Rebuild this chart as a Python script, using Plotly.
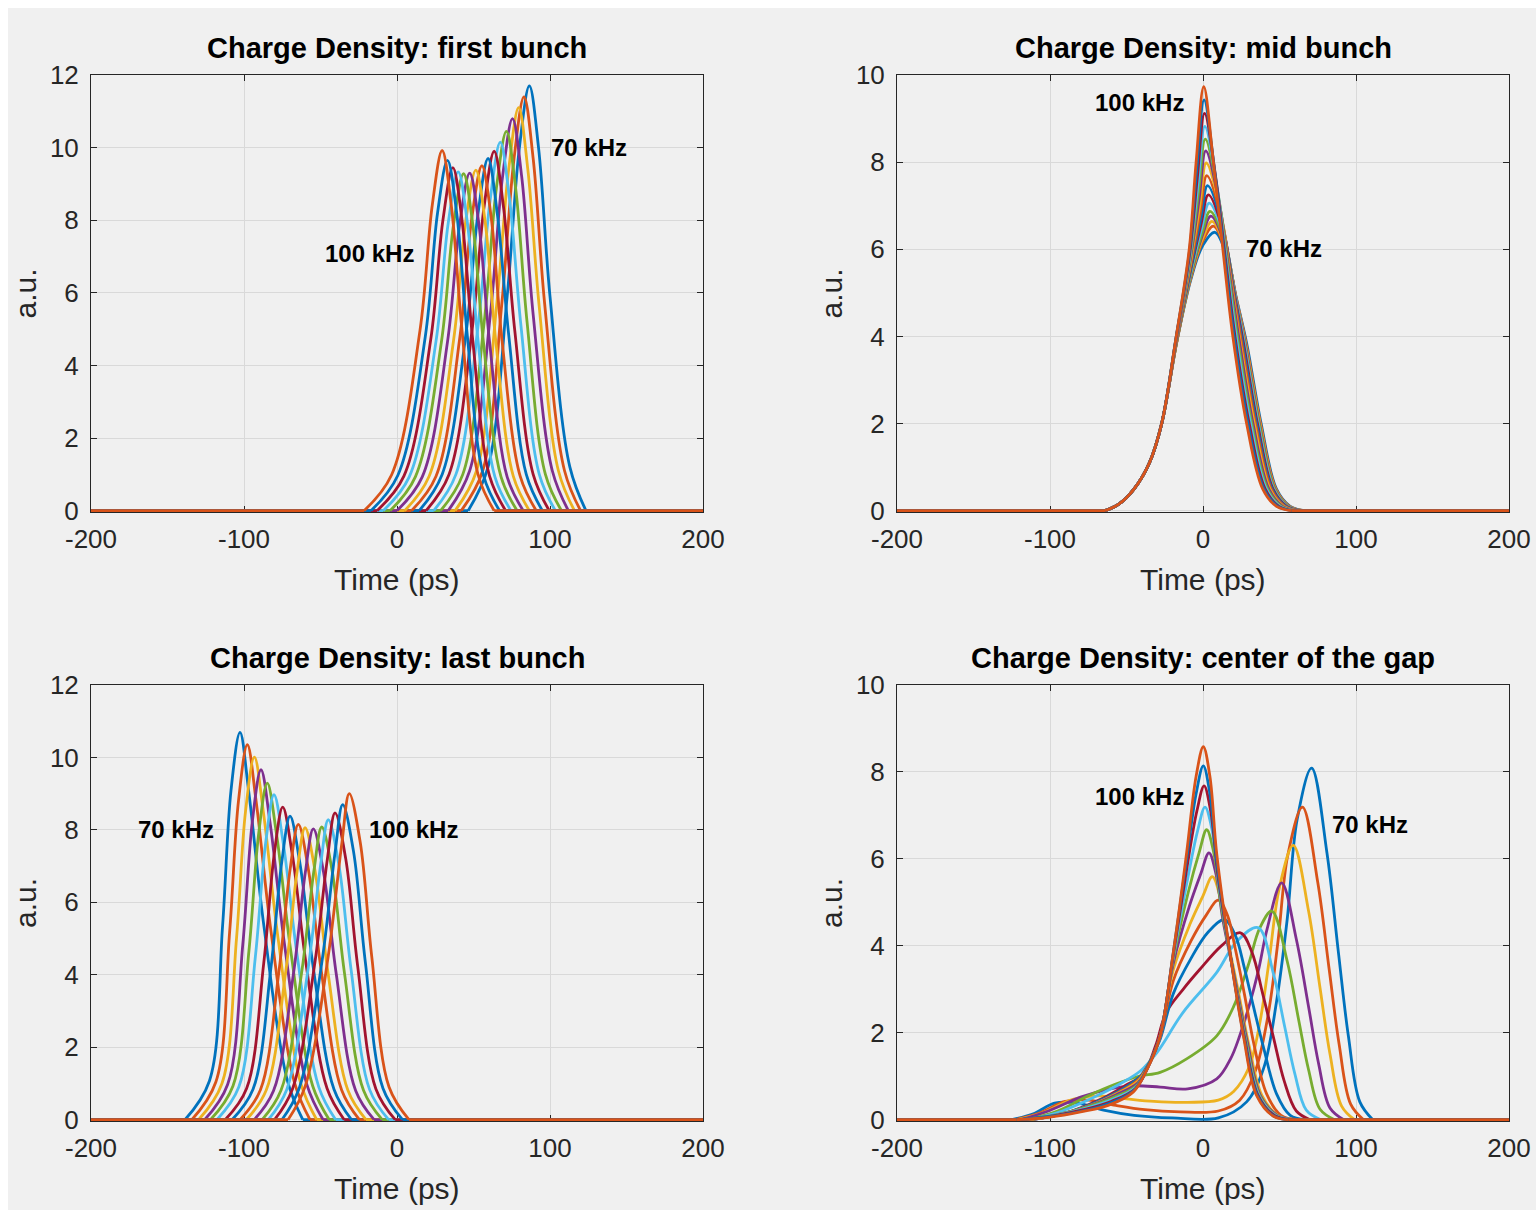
import plotly.graph_objects as go

# ---- data -----------------------------------------------------------------
freqs_khz = [70, 72, 74, 76, 78, 80, 82, 84, 86, 88, 90, 92, 94, 96, 98, 100]

line_colors = ["#0072BD", "#D95319", "#EDB120", "#7E2F8E", "#77AC30", "#4DBEEE", "#A2142F"]

time_span = [-200, 200]

# first bunch: knot times (ps) and densities (a.u.), one row per frequency
first_t = [
    [46.5, 59.5, 72, 80, 86.5, 92.5, 100, 113, 123.5],
    [42, 56, 68.5, 76.5, 83, 89, 96.5, 109.5, 120],
    [38, 52, 65, 73, 79.5, 85.5, 93, 105.5, 116],
    [33.5, 47.5, 61, 69, 75.5, 81.5, 89, 101.5, 112],
    [28.5, 43, 57, 65, 71.5, 77.5, 85, 97, 107.5],
    [24, 38.5, 53, 61, 67.5, 73.5, 81, 93, 103.5],
    [19, 34, 49, 57, 63.5, 69.5, 77, 89, 99.5],
    [14.5, 29.5, 45, 53, 59.5, 65.5, 73, 84.5, 95],
    [9.5, 25.5, 41, 49, 55.5, 61.5, 68.5, 80.5, 91],
    [5, 21, 37, 45, 51.5, 57.5, 64.5, 76, 86.5],
    [0, 16.5, 33, 41, 47.5, 53.5, 60.5, 72, 82.5],
    [-4.5, 12, 29, 37, 43.5, 49.5, 56.5, 68, 78.5],
    [-9, 8, 25.5, 33.5, 40, 46, 53, 64, 74.5],
    [-13, 4.5, 22, 30, 36.5, 42.5, 49.5, 60.5, 71],
    [-17, 0.5, 18.5, 26.5, 33, 39, 46, 56.5, 67],
    [-21.5, -3.5, 15, 23, 29.5, 35.5, 42.5, 53, 63.5],
]
first_y = [
    [0, 1.2, 5.9, 10.0, 11.7, 10.0, 5.9, 1.2, 0],
    [0, 1.1, 5.7, 9.7, 11.4, 9.7, 5.7, 1.1, 0],
    [0, 1.1, 5.6, 9.4, 11.1, 9.4, 5.6, 1.1, 0],
    [0, 1.1, 5.4, 9.2, 10.8, 9.2, 5.4, 1.1, 0],
    [0, 1.0, 5.2, 8.9, 10.45, 8.9, 5.2, 1.0, 0],
    [0, 1.0, 5.1, 8.6, 10.15, 8.6, 5.1, 1.0, 0],
    [0, 1.0, 4.95, 8.4, 9.9, 8.4, 4.95, 1.0, 0],
    [0, 1.0, 4.85, 8.2, 9.7, 8.2, 4.85, 1.0, 0],
    [0, 0.95, 4.75, 8.1, 9.5, 8.1, 4.75, 0.95, 0],
    [0, 0.95, 4.7, 8.0, 9.38, 8.0, 4.7, 0.95, 0],
    [0, 0.93, 4.65, 7.9, 9.3, 7.9, 4.65, 0.93, 0],
    [0, 0.93, 4.64, 7.9, 9.28, 7.9, 4.64, 0.93, 0],
    [0, 0.93, 4.67, 7.93, 9.33, 7.93, 4.67, 0.93, 0],
    [0, 0.95, 4.7, 8.0, 9.45, 8.0, 4.7, 0.95, 0],
    [0, 0.97, 4.8, 8.2, 9.65, 8.2, 4.8, 0.97, 0],
    [0, 0.99, 4.96, 8.4, 9.92, 8.4, 4.96, 0.99, 0],
]

# mid bunch
mid_t = [
    [-64, -55, -45, -35, -27, -17, -8, 0, 7.8, 16, 22, 28.5, 38, 48, 57, 67],
    [-64, -55, -45, -35, -27, -17, -8, -0.2, 6.8, 15.6, 21.6, 28.1, 37.6, 47.6, 56.6, 66.6],
    [-64, -55, -45, -35, -27, -17, -8.1, -0.3, 5.9, 15.3, 21.3, 27.8, 37.3, 47.3, 56.3, 66.3],
    [-64, -55, -45, -35, -27, -17.1, -8.1, -0.5, 5.2, 15.0, 21, 27.5, 36.9, 47, 56, 66],
    [-64, -55, -45, -35, -27, -17.1, -8.1, -0.6, 4.6, 14.7, 20.7, 27.2, 36.6, 46.7, 55.7, 65.7],
    [-64, -55, -45, -35, -27, -17.1, -8.2, -0.9, 4.0, 14.2, 20.2, 26.7, 36.1, 46.2, 55.2, 65.2],
    [-64, -55, -45, -35, -27, -17.1, -8.3, -1.2, 3.5, 13.6, 19.7, 26.2, 35.6, 45.7, 54.7, 64.7],
    [-64, -55, -45, -35, -27, -17.2, -8.3, -1.4, 3.0, 13.1, 19.1, 25.6, 35, 45.1, 54.1, 64.1],
    [-64, -55, -45, -35, -27, -17.2, -8.4, -1.8, 2.5, 12.4, 18.5, 25, 34.3, 44.5, 53.5, 63.5],
    [-64, -55, -45, -35, -27, -17.2, -8.5, -2.1, 2.1, 11.6, 17.7, 24.2, 33.5, 43.7, 52.7, 62.7],
    [-64, -55, -45, -35, -27, -17.3, -8.6, -2.5, 1.8, 10.8, 17, 23.5, 32.7, 43, 52, 62],
    [-64, -55, -45, -35, -27, -17.3, -8.6, -2.9, 1.5, 10.1, 16.2, 22.7, 31.9, 42.2, 51.2, 61.2],
    [-64, -55, -45, -35, -27, -17.4, -8.7, -3.3, 1.2, 9.3, 15.4, 21.9, 31.1, 41.4, 50.4, 60.4],
    [-64, -55, -45, -35, -27, -17.4, -8.8, -3.7, 1.0, 8.5, 14.6, 21.1, 30.2, 40.6, 49.6, 59.6],
    [-64, -55, -45, -35, -27, -17.5, -8.9, -4.1, 0.7, 7.6, 13.8, 20.3, 29.4, 39.8, 48.8, 58.8],
    [-64, -55, -45, -35, -27, -17.5, -9, -4.5, 0.5, 6.8, 13, 19.5, 28.5, 39, 48, 58],
]
mid_y = [
    [0, 0.15, 0.5, 1.1, 2, 3.9, 5.3, 6.1, 6.39, 5.8, 4.85, 3.85, 2, 0.5, 0.1, 0],
    [0, 0.15, 0.5, 1.1, 2, 3.9, 5.33, 6.18, 6.53, 5.89, 4.9, 3.85, 2, 0.5, 0.1, 0],
    [0, 0.15, 0.5, 1.1, 2, 3.9, 5.35, 6.24, 6.64, 5.97, 4.93, 3.85, 2, 0.5, 0.1, 0],
    [0, 0.15, 0.5, 1.1, 2, 3.9, 5.38, 6.31, 6.76, 6.04, 4.97, 3.85, 2, 0.5, 0.1, 0],
    [0, 0.15, 0.5, 1.1, 2, 3.9, 5.4, 6.37, 6.87, 6.12, 5.01, 3.85, 2, 0.5, 0.1, 0],
    [0, 0.15, 0.5, 1.1, 2, 3.95, 5.44, 6.48, 7.06, 6.24, 5.08, 3.9, 2, 0.5, 0.1, 0],
    [0, 0.15, 0.5, 1.1, 2, 3.95, 5.48, 6.59, 7.25, 6.37, 5.14, 3.9, 2, 0.5, 0.1, 0],
    [0, 0.15, 0.5, 1.1, 2, 3.95, 5.52, 6.71, 7.46, 6.5, 5.22, 3.9, 2, 0.5, 0.1, 0],
    [0, 0.15, 0.5, 1.1, 2, 3.95, 5.57, 6.84, 7.69, 6.66, 5.3, 3.9, 2, 0.5, 0.1, 0],
    [0, 0.15, 0.5, 1.1, 2, 3.95, 5.63, 7.0, 7.98, 6.85, 5.4, 3.9, 2, 0.5, 0.1, 0],
    [0, 0.15, 0.5, 1.1, 2, 3.95, 5.69, 7.16, 8.26, 7.03, 5.5, 3.95, 2, 0.5, 0.1, 0],
    [0, 0.15, 0.5, 1.1, 2, 4.0, 5.75, 7.32, 8.53, 7.21, 5.6, 3.95, 2, 0.5, 0.1, 0],
    [0, 0.15, 0.5, 1.1, 2, 4.0, 5.81, 7.48, 8.82, 7.4, 5.7, 3.95, 2, 0.5, 0.1, 0],
    [0, 0.15, 0.5, 1.1, 2, 4.0, 5.87, 7.65, 9.12, 7.6, 5.8, 3.95, 2, 0.5, 0.1, 0],
    [0, 0.15, 0.5, 1.1, 2, 4.0, 5.94, 7.83, 9.43, 7.8, 5.9, 4.0, 2, 0.5, 0.1, 0],
    [0, 0.15, 0.5, 1.1, 2, 4.0, 6.0, 8.0, 9.73, 8.0, 6.0, 4.0, 2, 0.5, 0.1, 0],
]

# last bunch
last_t = [
    [-138.6, -122.6, -114, -108.5, -102.6, -97, -87, -71.6, -61.6],
    [-134.1, -118.4, -109.4, -103.6, -97.8, -92.1, -82.3, -67.1, -56.9],
    [-129.7, -114.4, -104.9, -99, -93.2, -87.4, -77.7, -62.9, -52.5],
    [-125.7, -110.7, -100.8, -94.6, -88.9, -83, -73.5, -58.9, -48.3],
    [-121.9, -107.2, -96.8, -90.4, -84.8, -78.8, -69.4, -55.1, -44.3],
    [-117.7, -103.4, -92.6, -85.9, -80.4, -74.3, -65.1, -51.1, -40.1],
    [-112.3, -98.3, -87.1, -80.2, -74.7, -68.5, -59.5, -45.7, -34.5],
    [-107.8, -94.1, -82.4, -75.3, -69.9, -63.6, -54.7, -41.2, -29.8],
    [-102.6, -89.3, -77.2, -69.8, -64.5, -58, -49.4, -36.2, -24.6],
    [-98.5, -85.5, -72.9, -65.3, -60.1, -53.5, -45, -32.1, -20.3],
    [-93.4, -80.7, -67.7, -59.9, -54.7, -48, -39.7, -27, -15],
    [-88.1, -75.8, -62.4, -54.3, -49.2, -42.4, -34.3, -21.9, -9.7],
    [-84.1, -72.1, -58.2, -49.9, -44.9, -38, -30, -17.9, -5.5],
    [-80, -68.3, -54, -45.5, -40.5, -33.5, -25.7, -13.8, -1.2],
    [-75.2, -63.9, -49.1, -40.4, -35.5, -28.4, -20.7, -9.2, 3.6],
    [-71.2, -60.2, -45, -36, -31.2, -24, -16.5, -5.2, 7.8],
]
last_y = [
    [0, 1.07, 5.35, 9.09, 10.69, 9.09, 5.35, 1.07, 0],
    [0, 1.04, 5.18, 8.8, 10.35, 8.8, 5.18, 1.04, 0],
    [0, 1.0, 5.0, 8.51, 10.01, 8.51, 5.0, 1.0, 0],
    [0, 0.97, 4.83, 8.21, 9.66, 8.21, 4.83, 0.97, 0],
    [0, 0.93, 4.65, 7.9, 9.29, 7.9, 4.65, 0.93, 0],
    [0, 0.9, 4.49, 7.62, 8.97, 7.62, 4.49, 0.9, 0],
    [0, 0.86, 4.32, 7.34, 8.63, 7.34, 4.32, 0.86, 0],
    [0, 0.84, 4.19, 7.12, 8.38, 7.12, 4.19, 0.84, 0],
    [0, 0.82, 4.08, 6.93, 8.15, 6.93, 4.08, 0.82, 0],
    [0, 0.81, 4.03, 6.85, 8.06, 6.85, 4.03, 0.81, 0],
    [0, 0.8, 4.02, 6.83, 8.03, 6.83, 4.02, 0.8, 0],
    [0, 0.81, 4.04, 6.87, 8.08, 6.87, 4.04, 0.81, 0],
    [0, 0.83, 4.14, 7.04, 8.28, 7.04, 4.14, 0.83, 0],
    [0, 0.85, 4.24, 7.2, 8.47, 7.2, 4.24, 0.85, 0],
    [0, 0.87, 4.35, 7.4, 8.7, 7.4, 4.35, 0.87, 0],
    [0, 0.9, 4.5, 7.65, 9.0, 7.65, 4.5, 0.9, 0],
]

# center of the gap
gap_t = [
    [-125, -110, -97, -82, -65, -45, -20, 10, 28.5, 39.5, 48, 55, 61.5, 71, 81, 88.5, 95, 102.5, 111],
    [-123, -107, -90, -75, -57, -38, -15, 10, 24, 34, 42.5, 49, 55.5, 65, 75, 82.5, 89, 96.5, 105],
    [-121, -104, -85, -68, -50, -32, -10, 10, 20, 30, 37, 43, 50, 59, 69, 76.5, 83, 90.5, 99],
    [-119, -101, -80, -62, -45, -28, -10, 9, 18, 24, 30, 36, 42, 51.4, 61, 69, 75.5, 83, 92],
    [-115, -95, -75, -57, -42, -28, -10.7, 9, 20, 30, 37, 45, 55, 62.5, 69, 76.5, 86],
    [-113, -92, -71, -53, -41, -30, -13, 9, 22, 36, 46, 53.5, 60, 67.5, 77],
    [-112, -89, -68, -51, -39, -31, -24, -13, -2, 12, 24.5, 32, 39, 46, 53, 61, 70],
    [-112, -90, -69, -52, -41, -34, -28, -19.4, -8, 3, 14, 21, 27, 33, 40, 48, 57, 67],
    [-113, -91, -70, -53, -41.5, -34, -28, -19.4, -8, 2, 10, 16, 21, 27, 33.5, 41.5, 51, 62],
    [-114, -92, -72, -55, -42, -34, -28, -19.4, -8.5, 0, 6.1, 11, 15.5, 22.5, 30, 38.5, 49, 61],
    [-116, -94, -74, -57, -42.5, -34.5, -28, -19.4, -9, -1.5, 3.9, 8.5, 13, 20.8, 29, 37.5, 48.5, 60],
    [-118, -96, -76, -58, -43, -35, -28, -19.4, -9.5, -2.5, 2.4, 7, 11.5, 19.8, 28.2, 37, 48, 60],
    [-119, -97, -77, -59, -43.5, -35, -28, -19.4, -10, -3.5, 1.3, 6, 10.5, 19, 27.6, 36.5, 47.5, 59],
    [-120, -98, -78, -60, -44, -35.5, -28, -19.4, -10.5, -4, 0.7, 5, 9.8, 18.5, 27.2, 36, 47, 58],
    [-121, -99, -79, -61, -45, -36, -28, -19.4, -10.7, -4.5, 0.2, 4.5, 9.3, 18, 26.8, 35.5, 46.5, 57],
    [-122, -100, -80, -62, -45.5, -36, -28, -19.4, -10.7, -4.5, 0.2, 4.5, 8.9, 17.6, 26.4, 35, 46, 56],
]
gap_y = [
    [0, 0.15, 0.38, 0.38, 0.22, 0.1, 0.04, 0.04, 0.41, 1.17, 2.7, 4.6, 6.9, 8.09, 6.14, 3.85, 1.93, 0.41, 0],
    [0, 0.15, 0.42, 0.45, 0.33, 0.23, 0.18, 0.2, 0.45, 1.1, 2.4, 4.1, 6.1, 7.19, 5.46, 3.45, 1.73, 0.36, 0],
    [0, 0.17, 0.47, 0.55, 0.48, 0.42, 0.4, 0.45, 0.65, 1.2, 2.2, 3.6, 5.35, 6.31, 4.8, 3.03, 1.51, 0.32, 0],
    [0, 0.2, 0.52, 0.7, 0.78, 0.75, 0.71, 0.94, 1.4, 1.93, 2.6, 3.4, 4.4, 5.45, 4.15, 2.6, 1.3, 0.27, 0],
    [0, 0.2, 0.55, 0.82, 1.0, 1.09, 1.4, 1.93, 2.6, 3.6, 4.4, 4.8, 3.65, 2.3, 1.15, 0.24, 0],
    [0, 0.2, 0.52, 0.85, 1.12, 1.55, 2.47, 3.39, 4.1, 4.42, 3.36, 2.12, 1.06, 0.22, 0],
    [0, 0.16, 0.45, 0.78, 1.05, 1.7, 2.47, 3.0, 3.46, 4.0, 4.3, 3.85, 2.9, 1.9, 0.9, 0.2, 0],
    [0, 0.15, 0.42, 0.72, 1.0, 1.38, 1.85, 2.9, 3.7, 4.3, 4.6, 4.25, 3.5, 2.6, 1.6, 0.6, 0.1, 0],
    [0, 0.14, 0.38, 0.67, 0.95, 1.38, 1.9, 3.2, 4.1, 4.7, 5.05, 4.7, 3.95, 2.9, 1.7, 0.6, 0.1, 0],
    [0, 0.13, 0.35, 0.62, 0.9, 1.35, 1.93, 3.45, 4.5, 5.15, 5.59, 5.15, 4.25, 3.05, 1.72, 0.56, 0.1, 0],
    [0, 0.12, 0.32, 0.57, 0.85, 1.32, 1.93, 3.6, 4.9, 5.65, 6.14, 5.65, 4.6, 3.25, 1.78, 0.56, 0.1, 0],
    [0, 0.11, 0.29, 0.52, 0.8, 1.3, 1.93, 3.7, 5.25, 6.15, 6.67, 6.15, 5.0, 3.4, 1.82, 0.56, 0.1, 0],
    [0, 0.1, 0.26, 0.47, 0.76, 1.28, 1.93, 3.75, 5.55, 6.65, 7.19, 6.65, 5.35, 3.55, 1.85, 0.56, 0.1, 0],
    [0, 0.09, 0.23, 0.42, 0.72, 1.25, 1.93, 3.8, 5.8, 7.1, 7.68, 7.1, 5.6, 3.65, 1.88, 0.56, 0.09, 0],
    [0, 0.08, 0.2, 0.38, 0.68, 1.22, 1.93, 3.85, 6.0, 7.5, 8.14, 7.5, 5.85, 3.75, 1.9, 0.56, 0.08, 0],
    [0, 0.06, 0.18, 0.33, 0.64, 1.2, 1.93, 3.85, 6.14, 7.9, 8.58, 7.9, 6.14, 3.85, 1.93, 0.56, 0.08, 0],
]

panel_titles = [
    "Charge Density: first bunch",
    "Charge Density: mid bunch",
    "Charge Density: last bunch",
    "Charge Density: center of the gap",
]
x_tick_vals = [-200, -100, 0, 100, 200]
x_tick_text = ["-200", "-100", "0", "100", "200"]
y_max = [12, 10, 12, 10]

# frequency labels: (text, time, density) for each panel
freq_labels = [
    [("70 kHz", 125.5, 10.0), ("100 kHz", -18.3, 7.08)],
    [("100 kHz", -41.2, 9.36), ("70 kHz", 52.9, 6.02)],
    [("70 kHz", -144.4, 8.01), ("100 kHz", 11.1, 8.01)],
    [("100 kHz", -41.2, 7.43), ("70 kHz", 109.2, 6.79)],
]

# ---- layout geometry (pixels in a 1536 x 1213 page) ------------------------
W, H = 1536, 1213
panel_px = [  # left, right, top, bottom
    (91, 703, 75, 512),
    (897, 1509, 75, 512),
    (91, 703, 685, 1121),
    (897, 1509, 685, 1121),
]

FONT = "Liberation Sans, Arial, Helvetica, sans-serif"
TXT = "#262626"
LW = 2.8

fig = go.Figure()

panels_t = [first_t, mid_t, last_t, gap_t]
panels_y = [first_y, mid_y, last_y, gap_y]

for p in range(4):
    xa = "x" if p == 0 else f"x{p + 1}"
    ya = "y" if p == 0 else f"y{p + 1}"
    for k, f in enumerate(freqs_khz):
        color = line_colors[k % len(line_colors)]
        tt = panels_t[p][k]
        yy = panels_y[p][k]
        # flat zero level outside the bunch
        fig.add_trace(go.Scatter(
            x=[time_span[0], tt[0], None, tt[-1], time_span[1]],
            y=[0, 0, None, 0, 0], mode="lines",
            line=dict(color=color, width=LW),
            xaxis=xa, yaxis=ya, showlegend=False, hoverinfo="skip",
        ))
        # the profile itself
        fig.add_trace(go.Scatter(
            x=tt, y=yy, mode="lines", name=f"{f} kHz",
            line=dict(color=color, width=LW, shape="spline", smoothing=1.0),
            xaxis=xa, yaxis=ya, showlegend=False, hoverinfo="skip",
        ))

axis_common = dict(
    showline=True, linecolor=TXT, linewidth=1, mirror="ticks",
    ticks="inside", ticklen=6, tickwidth=1, tickcolor=TXT,
    showgrid=True, gridcolor="#d9d9d9", gridwidth=1, zeroline=False,
    tickfont=dict(family=FONT, size=26, color=TXT), layer="below traces",
    automargin=False,
)

annotations = []
for p in range(4):
    l, r, t, b = panel_px[p]
    xd = [l / W, r / W]
    yd = [1 - b / H, 1 - t / H]
    suffix = "" if p == 0 else str(p + 1)
    ymax = y_max[p]
    pad = ymax * 0.003
    fig.layout["xaxis" + suffix] = dict(
        axis_common, domain=xd, range=time_span, anchor="y" + suffix,
        tickvals=x_tick_vals, ticktext=x_tick_text, ticklabelstandoff=4,
    )
    fig.layout["yaxis" + suffix] = dict(
        axis_common, domain=yd, range=[-pad, ymax], anchor="x" + suffix,
        tickvals=list(range(0, ymax + 1, 2)), ticklabelstandoff=6,
    )
    cx = (l + r) / 2 / W
    annotations.append(dict(
        text=f"<b>{panel_titles[p]}</b>", x=cx, y=1 - (t - 27) / H,
        xref="paper", yref="paper", showarrow=False, xanchor="center", yanchor="middle",
        font=dict(family=FONT, size=29, color="#000000"),
    ))
    annotations.append(dict(
        text="Time (ps)", x=cx, y=1 - (b + 67) / H,
        xref="paper", yref="paper", showarrow=False, xanchor="center", yanchor="middle",
        font=dict(family=FONT, size=30, color=TXT),
    ))
    annotations.append(dict(
        text="a.u.", x=(l - 66) / W, y=1 - (t + b) / 2 / H, textangle=-90,
        xref="paper", yref="paper", showarrow=False, xanchor="center", yanchor="middle",
        font=dict(family=FONT, size=30, color=TXT),
    ))
    for txt, tx, ty in freq_labels[p]:
        annotations.append(dict(
            text=f"<b>{txt}</b>", x=tx, y=ty, xref="x" + suffix, yref="y" + suffix,
            showarrow=False, xanchor="center", yanchor="middle",
            font=dict(family=FONT, size=24, color="#000000"),
        ))

fig.update_layout(
    width=W, height=H, margin=dict(l=0, r=0, t=0, b=0, autoexpand=False),
    paper_bgcolor="#ffffff", plot_bgcolor="#ffffff",
    annotations=annotations,
    shapes=[dict(type="rect", xref="paper", yref="paper", layer="below",
                 x0=8 / W, x1=1, y0=3 / H, y1=1 - 8 / H,
                 fillcolor="#f0f0f0", line=dict(width=0))],
    showlegend=False,
)

fig.write_html("out.html")
